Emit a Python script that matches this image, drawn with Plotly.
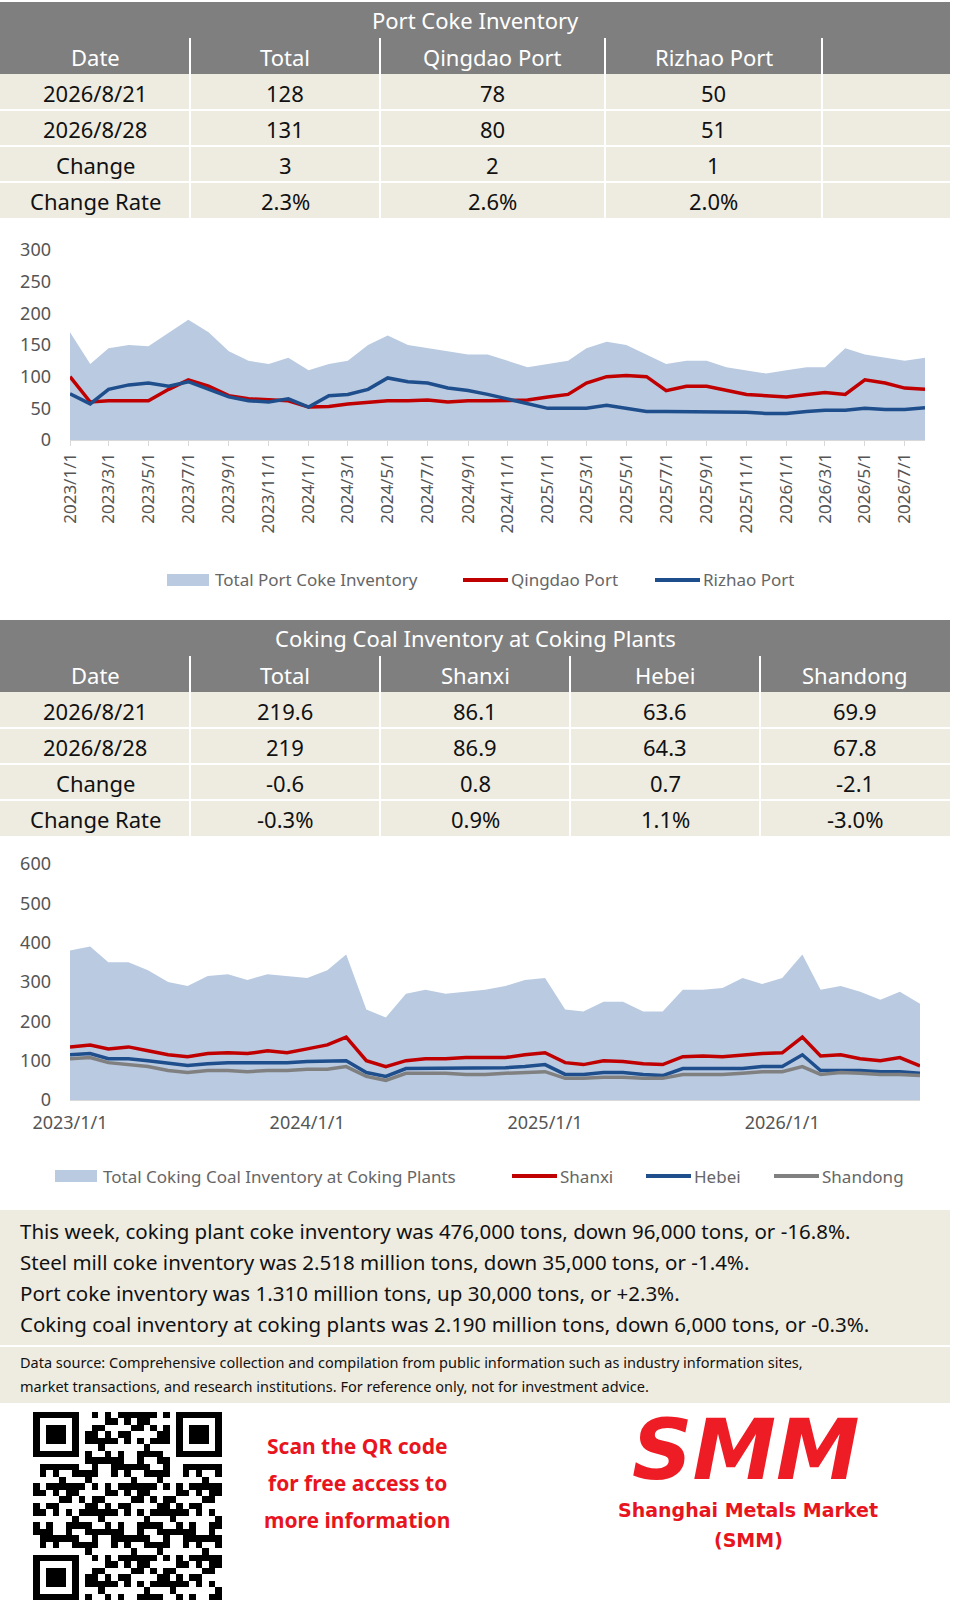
import numpy as np
import pandas as pd
import plotly.graph_objects as go

W, H = 978, 1609

# ---- Port coke inventory (10k tons), monthly ----
port_dates = pd.date_range("2023-01-01", "2026-08-01", freq="MS")
port_total = [170, 120, 145, 150, 148, 170, 190, 170, 140, 125, 120, 130,
              110, 120, 125, 150, 165, 150, 145, 140, 135, 135, 125, 115,
              120, 125, 145, 155, 150, 135, 120, 125, 125, 115, 110, 105,
              110, 115, 115, 145, 135, 130, 125, 130]
qingdao = [100, 60, 62, 62, 62, 80, 95, 85, 70, 65, 63, 62,
           52, 53, 57, 60, 62, 62, 63, 60, 62, 62, 62, 63,
           68, 72, 90, 100, 102, 100, 78, 85, 85, 78, 72, 70,
           68, 72, 75, 72, 95, 90, 82, 80]
rizhao = [73, 57, 80, 87, 90, 85, 92, 80, 68, 62, 60, 65,
          52, 70, 72, 80, 98, 92, 90, 82, 78, 72, 65, 58,
          50, 50, 50, 55, 50, 45, 45, 45, 45, 44, 44, 42,
          42, 45, 47, 47, 50, 48, 48, 51]

# ---- Coking coal inventory at coking plants (10k tons), monthly ----
coal_dates = port_dates
coal_total = [380, 390, 350, 350, 330, 300, 290, 315, 320, 305, 320, 315,
              310, 330, 370, 230, 210, 270, 280, 270, 275, 280, 290, 305,
              310, 230, 225, 250, 250, 225, 225, 280, 280, 285, 310, 295,
              310, 370, 280, 290, 275, 255, 275, 245]
shanxi = [135, 140, 130, 135, 125, 115, 110, 118, 120, 118, 125, 120,
          130, 140, 160, 100, 85, 100, 105, 105, 108, 108, 108, 115,
          120, 95, 90, 100, 98, 92, 90, 110, 112, 110, 115, 118,
          120, 160, 112, 115, 105, 100, 108, 87]
hebei = [115, 118, 105, 105, 100, 95, 88, 92, 95, 95, 95, 95,
         98, 98, 100, 70, 60, 80, 80, 80, 80, 82, 82, 85,
         90, 65, 65, 70, 70, 65, 62, 80, 80, 80, 80, 85,
         85, 115, 75, 75, 75, 72, 72, 68]
shandong = [105, 108, 95, 90, 85, 75, 70, 75, 75, 72, 75, 75,
            78, 78, 85, 60, 50, 68, 68, 68, 65, 65, 68, 70,
            72, 55, 55, 58, 58, 55, 55, 65, 65, 65, 68, 72,
            72, 85, 65, 70, 68, 65, 65, 62]

port_header = ["Date", "Total", "Qingdao Port", "Rizhao Port", ""]
port_rows = [["2026/8/21", "128", "78", "50", ""],
             ["2026/8/28", "131", "80", "51", ""],
             ["Change", "3", "2", "1", ""],
             ["Change Rate", "2.3%", "2.6%", "2.0%", ""]]
coal_header = ["Date", "Total", "Shanxi", "Hebei", "Shandong"]
coal_rows = [["2026/8/21", "219.6", "86.1", "63.6", "69.9"],
             ["2026/8/28", "219", "86.9", "64.3", "67.8"],
             ["Change", "-0.6", "0.8", "0.7", "-2.1"],
             ["Change Rate", "-0.3%", "0.9%", "1.1%", "-3.0%"]]

summary = ["This week, coking plant coke inventory was 476,000 tons, down 96,000 tons, or -16.8%.",
           "Steel mill coke inventory was 2.518 million tons, down 35,000 tons, or -1.4%.",
           "Port coke inventory was 1.310 million tons, up 30,000 tons, or +2.3%.",
           "Coking coal inventory at coking plants was 2.190 million tons, down 6,000 tons, or -0.3%."]

FONT = "Noto Sans"
GREY = "#7f7f7f"
BEIGE = "#eeece1"
RED = "#c00000"
BLUE = "#1f4e8c"
AREA = "#b9cae1"
LGREY = "#808080"


def px(x):
    return x / W


def py(y):
    return 1 - y / H


shapes, annos = [], []


def rect(x0, y0, x1, y1, color, line=None):
    shapes.append(dict(type="rect", xref="paper", yref="paper",
                       x0=px(x0), x1=px(x1), y0=py(y1), y1=py(y0),
                       fillcolor=color, line=dict(width=1 if line else 0, color=line or color),
                       layer="below"))


def text(x, y, s, size=22, color="#111", xanchor="center", bold=False, family=FONT):
    annos.append(dict(x=px(x), y=py(y), xref="paper", yref="paper", text=f"<b>{s}</b>" if bold else s,
                      showarrow=False, xanchor=xanchor, yanchor="middle",
                      font=dict(size=size, color=color, family=family)))


def table(top, title, header, rows, cols):
    rect(0, top, 950, top + 36, GREY)
    text(475, top + 18, title, size=22, color="white")
    rect(0, top + 36, 950, top + 72, GREY)
    for i in range(len(cols) - 1):
        text((cols[i] + cols[i + 1]) / 2, top + 55, header[i], color="white")
    for r, row in enumerate(rows):
        y0 = top + 72 + r * 36
        rect(0, y0, 950, y0 + 36, BEIGE)
        for i in range(len(cols) - 1):
            text((cols[i] + cols[i + 1]) / 2, y0 + 19, row[i])
    for c in cols[1:-1]:
        shapes.append(dict(type="line", xref="paper", yref="paper", x0=px(c), x1=px(c),
                           y0=py(top + 216), y1=py(top + 36), line=dict(color="white", width=2)))
    for r in range(1, len(rows)):
        y0 = top + 72 + r * 36
        shapes.append(dict(type="line", xref="paper", yref="paper", x0=0, x1=px(950),
                           y0=py(y0), y1=py(y0), line=dict(color="white", width=2)))


table(2, "Port Coke Inventory", port_header, port_rows, [0, 190, 380, 605, 822, 950])
table(620, "Coking Coal Inventory at Coking Plants", coal_header, coal_rows, [0, 190, 380, 570, 760, 950])

fig = go.Figure()
fig.add_trace(go.Scatter(x=port_dates, y=port_total, fill="tozeroy", fillcolor=AREA,
                         line=dict(width=0), mode="lines", xaxis="x", yaxis="y"))
fig.add_trace(go.Scatter(x=port_dates, y=qingdao, line=dict(color=RED, width=3.5), mode="lines", xaxis="x", yaxis="y"))
fig.add_trace(go.Scatter(x=port_dates, y=rizhao, line=dict(color=BLUE, width=3.5), mode="lines", xaxis="x", yaxis="y"))

fig.add_trace(go.Scatter(x=coal_dates, y=coal_total, fill="tozeroy", fillcolor=AREA,
                         line=dict(width=0), mode="lines", xaxis="x2", yaxis="y2"))
fig.add_trace(go.Scatter(x=coal_dates, y=shanxi, line=dict(color=RED, width=3.5), mode="lines", xaxis="x2", yaxis="y2"))
fig.add_trace(go.Scatter(x=coal_dates, y=hebei, line=dict(color=BLUE, width=3.5), mode="lines", xaxis="x2", yaxis="y2"))
fig.add_trace(go.Scatter(x=coal_dates, y=shandong, line=dict(color=LGREY, width=3.5), mode="lines", xaxis="x2", yaxis="y2"))

tick1 = pd.date_range("2023-01-01", "2026-07-01", freq="2MS")
fig.update_layout(
    xaxis=dict(domain=[px(70), px(925)], anchor="y", range=["2023-01-01", "2026-08-01"],
               tickvals=tick1, ticktext=[f"{d.year}/{d.month}/1" for d in tick1],
               tickangle=-90, tickfont=dict(size=17, color="#555", family=FONT),
               showgrid=False, showline=True, linecolor="#d9d9d9", ticks="outside",
               tickcolor="#d9d9d9", ticklen=5, automargin=False),
    yaxis=dict(domain=[py(440), py(250)], range=[0, 300], dtick=50, showgrid=False,
               tickfont=dict(size=18, color="#555", family=FONT), zeroline=False,
               ticklabelstandoff=18, automargin=False),
    xaxis2=dict(domain=[px(70), px(920)], anchor="y2", range=["2023-01-01", "2026-08-01"],
                tickvals=pd.to_datetime(["2023-01-01", "2024-01-01", "2025-01-01", "2026-01-01"]),
                ticktext=["2023/1/1", "2024/1/1", "2025/1/1", "2026/1/1"],
                tickfont=dict(size=18, color="#555", family=FONT), ticklabelstandoff=6,
                showgrid=False, showline=True, linecolor="#d9d9d9", automargin=False),
    yaxis2=dict(domain=[py(1100), py(864)], range=[0, 600], dtick=100, showgrid=False,
                tickfont=dict(size=18, color="#555", family=FONT), zeroline=False,
                ticklabelstandoff=18, automargin=False),
)


# legends
def legend_item(x, y, label, color, kind):
    if kind == "area":
        rect(x, y - 6, x + 42, y + 6, color)
    else:
        shapes.append(dict(type="line", xref="paper", yref="paper", x0=px(x), x1=px(x + 45),
                           y0=py(y), y1=py(y), line=dict(color=color, width=4)))
    text(x + 46, y, label, size=17, color="#666", xanchor="left")


legend_item(167, 580, "Total Port Coke Inventory", AREA, "area")
legend_item(463, 580, "Qingdao Port", RED, "line")
legend_item(655, 580, "Rizhao Port", BLUE, "line")
legend_item(55, 1176, "Total Coking Coal Inventory at Coking Plants", AREA, "area")
legend_item(512, 1176, "Shanxi", RED, "line")
legend_item(646, 1176, "Hebei", BLUE, "line")
legend_item(774, 1176, "Shandong", LGREY, "line")

# summary box
rect(0, 1210, 950, 1403, BEIGE)
shapes.append(dict(type="line", xref="paper", yref="paper", x0=0, x1=px(950),
                   y0=py(1346), y1=py(1346), line=dict(color="white", width=2)))
for i, s in enumerate(summary):
    text(18, 1231 + i * 31, s, size=20.5, color="#111", xanchor="left")
text(18, 1362, "Data source: Comprehensive collection and compilation from public information such as industry information sites,",
     size=14.5, xanchor="left")
text(18, 1386, "market transactions, and research institutions. For reference only, not for investment advice.",
     size=14.5, xanchor="left")

# QR-like block (decorative)
n = 29
qr = np.array([[1 if ((i * i * 31 + j * j * 17 + i * j * 7 + i * 3 + j) % 11 < 5) else 0
                for j in range(n)] for i in range(n)])
for (r0, c0) in [(0, 0), (0, n - 7), (n - 7, 0)]:
    qr[max(r0 - 1, 0):r0 + 8, max(c0 - 1, 0):c0 + 8] = 0
    qr[r0:r0 + 7, c0:c0 + 7] = 1
    qr[r0 + 1:r0 + 6, c0 + 1:c0 + 6] = 0
    qr[r0 + 2:r0 + 5, c0 + 2:c0 + 5] = 1
fig.add_trace(go.Heatmap(z=qr[::-1], colorscale=[[0, "white"], [1, "black"]], showscale=False,
                         xaxis="x3", yaxis="y3", hoverinfo="skip"))
fig.update_layout(
    xaxis3=dict(domain=[px(33), px(222)], anchor="y3", visible=False),
    yaxis3=dict(domain=[py(1600), py(1412)], visible=False),
)

for i, s in enumerate(["Scan the QR code", "for free access to", "more information"]):
    text(357, 1446 + i * 37, s, size=21, color="#e8141e", bold=True)
text(746, 1450, "<i>SMM</i>", size=84, color="#ee1c25", bold=True, family="DejaVu Sans")
text(748, 1510, "Shanghai Metals Market", size=19, color="#e8141e", bold=True, family="DejaVu Sans")
text(748, 1540, "(SMM)", size=19, color="#e8141e", bold=True, family="DejaVu Sans")

fig.update_layout(width=W, height=H, margin=dict(l=0, r=0, t=0, b=0),
                  paper_bgcolor="white", plot_bgcolor="white", showlegend=False,
                  shapes=shapes, annotations=annos)
fig.write_html("out.html", config={"displayModeBar": False},
               post_script="document.body.style.margin='0';document.body.style.overflow='hidden';")
